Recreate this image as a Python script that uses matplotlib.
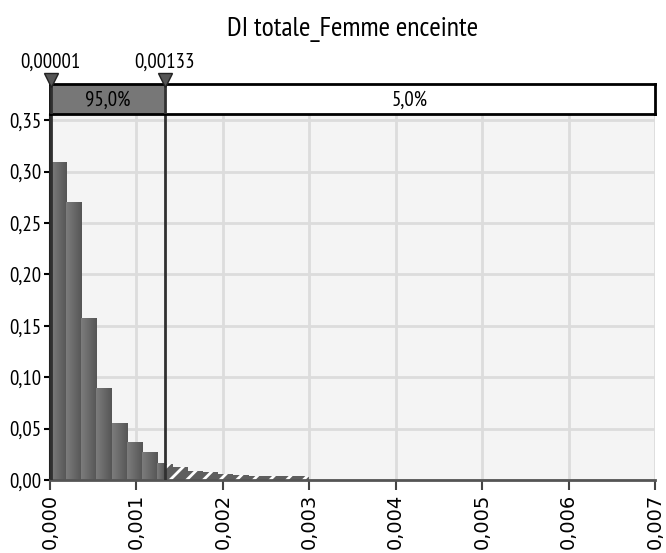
import numpy as np
import matplotlib
matplotlib.use("Agg")
import matplotlib.pyplot as plt
from matplotlib.colors import LinearSegmentedColormap

# histogram data
bin_start = 0.00001
bin_width = 0.000176
heights = [0.309, 0.270, 0.157, 0.089, 0.055, 0.036, 0.027, 0.016, 0.013,
           0.009, 0.008, 0.0055, 0.005, 0.004, 0.004, 0.004, 0.004]
left_cut = 0.00001
right_cut = 0.00133
band_labels = ["95,0%", "5,0%"]
cut_labels = ["0,00001", "0,00133"]
x_ticks = [0.000, 0.001, 0.002, 0.003, 0.004, 0.005, 0.006, 0.007]
y_ticks = [0.00, 0.05, 0.10, 0.15, 0.20, 0.25, 0.30, 0.35]
title = "DI totale_Femme enceinte"

narrow = ["PT Sans Narrow", "DejaVu Sans"]
plt.rcParams["hatch.color"] = "white"
plt.rcParams["hatch.linewidth"] = 2.0

W, H = 666, 553
fig = plt.figure(figsize=(W / 100, H / 100), dpi=100)

def frac(x0, y0, x1, y1):
    # pixel box -> figure fraction [left, bottom, width, height]
    return [x0 / W, 1 - y1 / H, (x1 - x0) / W, (y1 - y0) / H]

ax = fig.add_axes(frac(50, 115, 655, 480))
band = fig.add_axes(frac(50, 84, 655, 114))

xmin, xmax = 0.0, 0.007
ax.set_facecolor("#f4f4f4")

# gradient-filled bars up to the cut, hatched beyond it
grad = np.linspace(0.0, 1.0, 32).reshape(1, -1)
cmap = LinearSegmentedColormap.from_list("g", ["#7c7c7c", "#565656"])
edges = bin_start + bin_width * np.arange(len(heights) + 1)
for i, h in enumerate(heights):
    l, r = edges[i], edges[i + 1]
    if l < right_cut:
        ax.imshow(grad, extent=[l, min(r, right_cut), 0, h], aspect="auto",
                  cmap=cmap, interpolation="bilinear", zorder=2)
    if r > right_cut:
        ll = max(l, right_cut)
        ax.bar(ll, h, width=r - ll, align="edge", color="#5e5e5e",
               edgecolor="white", linewidth=0, hatch="//", zorder=2)

ax.set_xlim(xmin, xmax)
ax.set_ylim(0, 0.355)
ax.set_xticks(x_ticks)
ax.set_xticklabels([f"{v:.3f}".replace(".", ",") for v in x_ticks],
                   rotation=90, fontsize=14, family="DejaVu Sans")
ax.set_yticks(y_ticks)
ax.set_yticklabels([f"{v:.2f}".replace(".", ",") for v in y_ticks],
                   fontsize=15, family=narrow)
ax.grid(True, color="#dcdcdc", linewidth=2, zorder=0)
ax.set_axisbelow(True)
ax.tick_params(axis="y", length=4, width=1.5, color="black", pad=2)
ax.tick_params(axis="x", length=7, width=1.5, color="#444444", pad=3)
for s in ["top", "right"]:
    ax.spines[s].set_visible(False)
ax.spines["left"].set_linewidth(1.5)
ax.spines["left"].set_color("#222222")
ax.spines["bottom"].set_linewidth(2)
ax.spines["bottom"].set_color("#555555")

for c in [left_cut, right_cut]:
    ax.axvline(c, color="#303030", linewidth=2, zorder=5)

# probability band above the plot
band.set_xlim(xmin, xmax)
band.set_ylim(0, 1)
band.axvspan(xmin, right_cut, color="#777777", zorder=1)
band.axvspan(right_cut, xmax, color="white", zorder=1)
for s in band.spines.values():
    s.set_linewidth(2)
    s.set_color("black")
band.set_xticks([])
band.set_yticks([])
for c in [left_cut, right_cut]:
    band.axvline(c, color="#303030", linewidth=2, zorder=5)
band.text((xmin + right_cut) / 2, 0.45, band_labels[0], ha="center", va="center",
          fontsize=15, family=narrow)
band.text((right_cut + xmax) / 2, 0.45, band_labels[1], ha="center", va="center",
          fontsize=15, family=narrow)
band.plot([left_cut, right_cut], [1.12, 1.12], linestyle="none", marker="v",
          markersize=10, color="#555555", markeredgecolor="#222222",
          clip_on=False, zorder=6)
for c, lab in zip([left_cut, right_cut], cut_labels):
    band.annotate(lab, (c, 1.0), xytext=(0, 9), textcoords="offset points",
                  ha="center", va="bottom", fontsize=15, family=narrow,
                  annotation_clip=False)

fig.text((50 + 655) / 2 / W, 1 - 30 / H, title, ha="center", va="center",
         fontsize=20, family=narrow)

fig.savefig("out.png", dpi=100)
